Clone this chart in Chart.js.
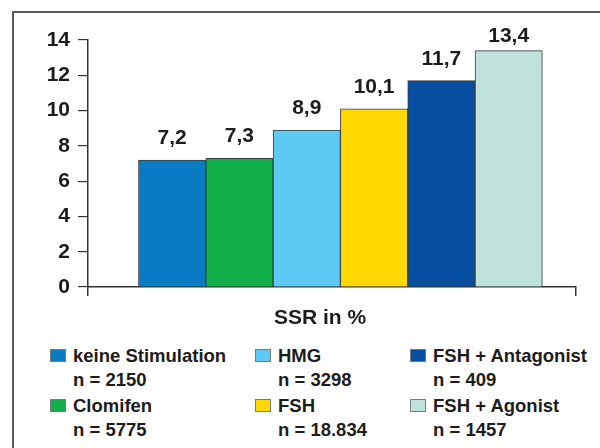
<!DOCTYPE html>
<html lang="de">
<head>
    <meta charset="UTF-8">
    <title>SSR in %</title>
    <script src="https://cdn.jsdelivr.net/npm/chart.js"></script>
    <style>
        body {
            margin: 0;
            background: #fff;
            font-family: "Liberation Sans", Arial, sans-serif;
        }

        .wrap {
            position: relative;
            width: 600px;
            height: 448px;
            overflow: hidden;
        }

        .frame {
            position: absolute;
            left: 12px;
            top: 11px;
            width: 700px;
            height: 600px;
            border: 2px solid #5c5c5c;
        }

        .chartBox {
            position: absolute;
            left: 0;
            top: 0;
            width: 600px;
            height: 340px;
        }

        #legende {
            position: absolute;
            left: 50px;
            top: 344px;
            display: grid;
            grid-template-columns: 205px 155px auto;
            grid-template-rows: 48px 48px;
            grid-auto-flow: column;
            row-gap: 2px;
            font-weight: bold;
            font-size: 18.5px;
            line-height: 24px;
            color: #1c1c1c;
        }

        .item {
            position: relative;
            padding-left: 23px;
            white-space: nowrap;
        }

        .item span {
            position: absolute;
            left: 0;
            top: 5px;
            width: 16px;
            height: 13px;
            border: 1px solid #7a7a7a;
            box-sizing: border-box;
        }
    </style>
</head>
<body>
    <div class="wrap">
        <div class="frame"></div>
        <div class="chartBox"><canvas id="grafico"></canvas></div>
        <div id="legende"></div>
    </div>

    <script>
        const kategorien = ['keine Stimulation', 'Clomifen', 'HMG', 'FSH', 'FSH + Antagonist', 'FSH + Agonist'];
        const anzahl = ['2150', '5775', '3298', '18.834', '409', '1457'];
        const ssrWerte = [7.2, 7.3, 8.9, 10.1, 11.7, 13.4];
        const farben = ['#0a7cc5', '#12b04b', '#5dcaf4', '#ffd900', '#064ea0', '#bfe3dc'];
        const yTicks = [0, 2, 4, 6, 8, 10, 12, 14];

        Chart.defaults.font.family = '"Liberation Sans", Arial, sans-serif';
        Chart.defaults.color = '#1c1c1c';

        // Werte über den Balken (mit Komma)
        const wertLabels = {
            id: 'wertLabels',
            afterDatasetsDraw(chart) {
                const ctx = chart.ctx;
                const meta = chart.getDatasetMeta(0);
                ctx.save();
                ctx.font = 'bold 21px "Liberation Sans", Arial, sans-serif';
                ctx.fillStyle = '#1c1c1c';
                ctx.textAlign = 'center';
                ctx.textBaseline = 'alphabetic';
                meta.data.forEach((bar, i) => {
                    const text = String(ssrWerte[i]).replace('.', ',');
                    const y = Math.max(bar.y - 16, chart.chartArea.top + 2);
                    ctx.fillText(text, bar.x, y);
                });
                ctx.restore();
            }
        };

        // Achsentitel unter der x-Achse
        const achsenTitel = {
            id: 'achsenTitel',
            afterDraw(chart, args, opts) {
                const ctx = chart.ctx;
                ctx.save();
                ctx.font = 'bold 21px "Liberation Sans", Arial, sans-serif';
                ctx.fillStyle = '#1c1c1c';
                ctx.textAlign = 'center';
                ctx.fillText(opts.text, opts.x, chart.chartArea.bottom + 37);
                ctx.restore();
            }
        };

        const grafico = new Chart(document.getElementById('grafico'), {
            type: 'bar',
            data: {
                datasets: [{
                    label: 'SSR in %',
                    data: ssrWerte.map((v, i) => ({ x: i, y: v })),
                    backgroundColor: farben,
                    borderColor: '#3a3a3a',
                    borderWidth: 1,
                    barPercentage: 1,
                    categoryPercentage: 1
                }]
            },
            options: {
                responsive: true,
                maintainAspectRatio: false,
                animation: false,
                layout: {
                    padding: { top: 40, right: 24, left: 0, bottom: 0 }
                },
                plugins: {
                    legend: { display: false },
                    tooltip: { enabled: false },
                    achsenTitel: { text: 'SSR in %', x: 320 }
                },
                scales: {
                    x: {
                        type: 'linear',
                        offset: false,
                        min: -1.25,
                        max: 6,
                        afterBuildTicks: (scale) => {
                            scale.ticks = [{ value: -1.25 }, { value: 6 }];
                        },
                        afterFit: (scale) => { scale.height = 53; },
                        ticks: { display: false },
                        grid: {
                            offset: false,
                            drawOnChartArea: false,
                            drawTicks: true,
                            tickLength: 9,
                            color: '#333',
                            lineWidth: 1.5
                        },
                        border: { color: '#333', width: 1.5 }
                    },
                    y: {
                        min: 0,
                        max: 14,
                        afterBuildTicks: (scale) => {
                            scale.ticks = yTicks.map(v => ({ value: v }));
                        },
                        afterFit: (scale) => { scale.width = 88; },
                        ticks: {
                            padding: 8,
                            color: '#1c1c1c',
                            font: { size: 21, weight: 'bold' }
                        },
                        grid: {
                            drawOnChartArea: false,
                            drawTicks: true,
                            tickLength: 10,
                            color: '#333',
                            lineWidth: 1.2
                        },
                        border: { color: '#333', width: 1.5 }
                    }
                }
            },
            plugins: [wertLabels, achsenTitel]
        });

        // Legende als HTML
        const legende = document.getElementById('legende');
        kategorien.forEach((name, i) => {
            const div = document.createElement('div');
            div.className = 'item';
            const box = document.createElement('span');
            box.style.background = farben[i];
            div.appendChild(box);
            div.appendChild(document.createTextNode(name));
            div.appendChild(document.createElement('br'));
            div.appendChild(document.createTextNode('n = ' + anzahl[i]));
            legende.appendChild(div);
        });
    </script>
</body>
</html>
